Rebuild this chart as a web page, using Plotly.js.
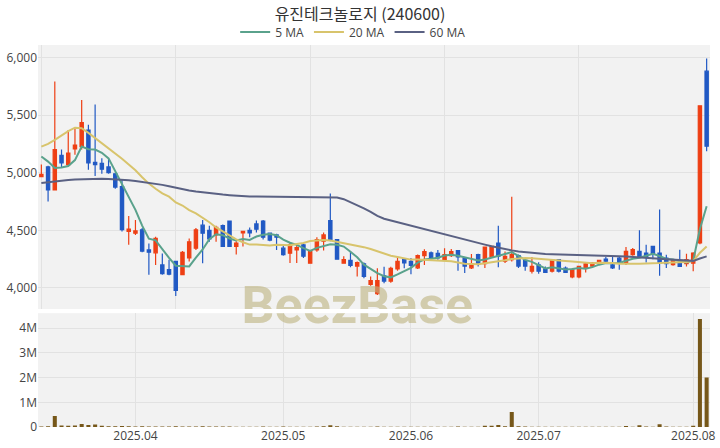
<!DOCTYPE html>
<html>
<head>
<meta charset="utf-8">
<script src="https://cdn.plot.ly/plotly-3.0.1.min.js"></script>
<style>html,body{margin:0;padding:0;background:#fff;}#chart{width:720px;height:448px;}</style>
</head>
<body>
<div id="chart"></div>
<script>
const dates = [
"2025-03-12","2025-03-13","2025-03-14","2025-03-17","2025-03-18","2025-03-19","2025-03-20","2025-03-21","2025-03-24","2025-03-25","2025-03-26","2025-03-27","2025-03-28","2025-03-31",
"2025-04-01","2025-04-02","2025-04-03","2025-04-04","2025-04-07","2025-04-08","2025-04-09","2025-04-10","2025-04-11","2025-04-14","2025-04-15","2025-04-16","2025-04-17","2025-04-18","2025-04-21","2025-04-22","2025-04-23","2025-04-24","2025-04-25","2025-04-28","2025-04-29","2025-04-30",
"2025-05-02","2025-05-07","2025-05-08","2025-05-09","2025-05-12","2025-05-13","2025-05-14","2025-05-15","2025-05-16","2025-05-19","2025-05-20","2025-05-21","2025-05-22","2025-05-23","2025-05-26","2025-05-27","2025-05-28","2025-05-29","2025-05-30",
"2025-06-02","2025-06-04","2025-06-05","2025-06-09","2025-06-10","2025-06-11","2025-06-12","2025-06-13","2025-06-16","2025-06-17","2025-06-18","2025-06-19","2025-06-20","2025-06-23","2025-06-24","2025-06-25","2025-06-26","2025-06-27","2025-06-30",
"2025-07-01","2025-07-02","2025-07-03","2025-07-04","2025-07-07","2025-07-08","2025-07-09","2025-07-10","2025-07-11","2025-07-14","2025-07-15","2025-07-16","2025-07-17","2025-07-18","2025-07-21","2025-07-22","2025-07-23","2025-07-24","2025-07-25","2025-07-28","2025-07-29","2025-07-30","2025-07-31",
"2025-08-01","2025-08-04","2025-08-05"];

const openP = [4965,5050,4850,5150,5070,5205,5225,5370,5090,5080,5050,4990,4880,4490,4475,4505,4330,4305,4200,4160,
4230,4115,4260,4345,4545,4500,4460,4540,4580,4360,4478,4500,4555,4580,4475,4460,4345,4302,4330,4375,
4215,4330,4405,4585,4420,4215,4240,4190,4210,4030,3950,4105,4060,4165,4250,4230,4175,4280,4305,4300,
4245,4280,4325,4260,4175,4290,4210,4270,4390,4232,4245,4280,4240,4145,4200,4165,4145,4245,4172,4095,
4095,4175,4190,4210,4250,4200,4258,4216,4290,4317,4303,4360,4303,4260,4202,4216,4210,4216,4390,5880];
const highP = [5070,5060,5790,5200,5370,5385,5630,5415,5590,5125,5120,5000,4940,4625,4590,4520,4385,4445,4300,4245,
4235,4320,4430,4520,4590,4540,4540,4550,4585,4405,4495,4525,4585,4590,4480,4470,4375,4390,4375,4390,
4330,4440,4480,4820,4425,4275,4315,4230,4220,4100,4170,4185,4185,4275,4260,4260,4290,4335,4317,4330,
4345,4337,4330,4268,4295,4297,4360,4366,4540,4317,4790,4290,4260,4268,4222,4187,4250,4250,4187,4172,
4193,4222,4222,4245,4268,4268,4274,4355,4346,4500,4375,4366,4680,4288,4250,4332,4297,4310,5580,5990];
const lowP = [4960,4750,4845,5050,5060,5155,5200,5025,4970,4990,4990,4860,4490,4375,4460,4310,4115,4200,4115,4110,
3930,4110,4230,4330,4215,4400,4400,4355,4355,4290,4360,4440,4480,4420,4405,4330,4280,4216,4216,4260,
4210,4315,4325,4405,4245,4210,4180,4100,4085,4020,3940,4040,4045,4150,4170,4120,4165,4200,4250,4245,
4240,4268,4150,4130,4165,4187,4173,4260,4180,4216,4230,4173,4150,4125,4124,4130,4135,4135,4130,4085,
4085,4135,4181,4200,4216,4164,4158,4200,4280,4260,4220,4250,4105,4173,4193,4181,4187,4144,4380,5185];
const closeP = [4985,4850,5200,5085,5170,5240,5435,5085,5070,5030,5000,4875,4505,4510,4495,4320,4310,4430,4125,4120,
3980,4310,4400,4505,4475,4425,4525,4360,4360,4390,4490,4478,4510,4440,4415,4440,4290,4375,4350,4275,
4320,4420,4460,4420,4250,4245,4195,4220,4100,4065,4065,4060,4170,4230,4218,4195,4280,4315,4260,4260,
4290,4315,4270,4190,4210,4210,4355,4360,4275,4275,4290,4190,4190,4187,4145,4135,4245,4145,4135,4158,
4187,4210,4216,4240,4232,4175,4216,4317,4332,4268,4270,4297,4216,4210,4245,4187,4245,4303,5580,5230];

const ma5 = [5140,5096,5040,5045,5058,5109,5226,5203,5200,5172,5124,5012,4896,4784,4677,4541,4428,4413,4336,4261,
4193,4193,4187,4263,4334,4423,4466,4458,4429,4412,4425,4416,4446,4462,4467,4457,4419,4392,4374,4346,
4322,4348,4365,4379,4374,4359,4314,4266,4202,4165,4129,4102,4092,4118,4149,4175,4219,4248,4254,4262,
4281,4288,4279,4265,4255,4239,4247,4265,4282,4295,4311,4278,4244,4226,4200,4169,4180,4171,4161,4164,
4174,4167,4181,4202,4217,4215,4216,4236,4254,4262,4281,4297,4277,4252,4248,4231,4221,4238,4512,4709];
const ma20 = [5226,5250,5285,5325,5360,5390,5385,5345,5300,5255,5215,5170,5120,5070,5020,4960,4905,4860,4820,4792,
4742,4715,4675,4646,4611,4570,4525,4489,4453,4421,4396,4376,4376,4372,4368,4374,4373,4371,4382,4390,
4407,4412,4415,4411,4400,4391,4374,4367,4354,4338,4317,4296,4279,4268,4258,4246,4246,4243,4238,4237,
4236,4231,4221,4210,4208,4206,4214,4221,4230,4240,4251,4258,4259,4257,4253,4250,4248,4240,4234,4229,
4223,4218,4215,4218,4219,4217,4210,4208,4211,4211,4210,4215,4216,4217,4222,4225,4225,4233,4305,4359];
const ma60 = [4910,4918,4926,4932,4937,4941,4944,4946,4947,4947,4946,4944,4940,4934,4928,4921,4914,4905,4894,4882,
4868,4855,4845,4836,4828,4821,4815,4810,4805,4800,4797,4794,4793,4792,4791,4790,4790,4790,4790,4789,
4789,4789,4788,4788,4785,4770,4745,4718,4690,4660,4625,4600,4585,4568,4552,4535,4520,4505,4490,4476,
4462,4448,4433,4418,4404,4390,4376,4362,4348,4337,4326,4317,4310,4303,4297,4294,4292,4291,4290,4289,
4288,4286,4284,4282,4280,4278,4276,4274,4271,4267,4263,4258,4253,4249,4245,4241,4237,4235,4255,4274];

const volume = [20000,30000,450000,60000,50000,60000,120000,80000,100000,50000,30000,30000,40000,30000,20000,30000,20000,20000,20000,20000,
30000,20000,20000,20000,30000,20000,20000,20000,20000,10000,10000,10000,10000,20000,10000,10000,20000,10000,10000,10000,
10000,20000,30000,70000,30000,10000,10000,10000,10000,10000,20000,10000,10000,10000,10000,10000,10000,10000,10000,10000,
10000,10000,20000,10000,10000,10000,50000,50000,80000,30000,610000,30000,20000,10000,10000,10000,10000,10000,10000,10000,
10000,10000,10000,10000,10000,10000,10000,40000,10000,70000,20000,10000,110000,20000,10000,10000,10000,50000,4370000,2000000];

const monthTickIdx = [14,36,55,74,97];
const monthTickText = ["2025.04","2025.05","2025.06","2025.07","2025.08"];
const priceGridIdx = [0,20,40,60,80];
const priceTicks = [4000,4500,5000,5500,6000];
const volTicks = [0,1000000,2000000,3000000,4000000];
const volTickText = ["0","1M","2M","3M","4M"];
const titleText = "유진테크놀로지 (240600)";
const watermark = "BeezBase";

const RED = "#ee3f14", BLUE = "#2159c4";
const wmColor = "rgba(190,180,130,0.62)";
const wmIdx = 47;

const traces = [
  {type:"candlestick", x:dates, open:openP, high:highP, low:lowP, close:closeP,
   xaxis:"x", yaxis:"y", showlegend:false, hoverinfo:"skip",
   increasing:{line:{color:RED,width:1.2}, fillcolor:RED},
   decreasing:{line:{color:BLUE,width:1.2}, fillcolor:BLUE}},
  {type:"scatter", mode:"lines", x:dates, y:ma5, name:"5 MA", xaxis:"x", yaxis:"y",
   line:{color:"#5aa28c", width:2}},
  {type:"scatter", mode:"lines", x:dates, y:ma20, name:"20 MA", xaxis:"x", yaxis:"y",
   line:{color:"#d8c46c", width:2}},
  {type:"scatter", mode:"lines", x:dates, y:ma60, name:"60 MA", xaxis:"x", yaxis:"y",
   line:{color:"#5a6183", width:2}},
  {type:"bar", x:dates, y:volume, xaxis:"x2", yaxis:"y2", showlegend:false,
   marker:{color:"#765719"}, hoverinfo:"skip"},
  {type:"scatter", mode:"text", x:[dates[wmIdx]], y:[3812], text:[watermark], xaxis:"x", yaxis:"y",
   showlegend:false, cliponaxis:true, hoverinfo:"skip",
   textfont:{family:"Roboto", size:52, color:wmColor, weight:"bold"}, textposition:"middle center"},
  {type:"scatter", mode:"text", x:[dates[wmIdx]], y:[4740000], text:[watermark], xaxis:"x2", yaxis:"y2",
   showlegend:false, cliponaxis:true, hoverinfo:"skip",
   textfont:{family:"Roboto", size:52, color:wmColor, weight:"bold"}, textposition:"middle center"}
];

const gridC = "#e2e2e2";
const layout = {
  width:720, height:448,
  margin:{l:38, r:10, t:45, b:21},
  paper_bgcolor:"#ffffff", plot_bgcolor:"#f2f2f2",
  font:{family:"Open Sans, sans-serif", size:12, color:"#444"},
  title:{text:titleText, x:0.5, xanchor:"center", y:0.968, yanchor:"middle",
         font:{family:"Noto Sans CJK KR", size:16, color:"#333"}},
  showlegend:true,
  legend:{orientation:"h", x:0.469, xanchor:"center", y:1.034, yanchor:"middle",
          font:{size:12, color:"#444"}, bgcolor:"rgba(0,0,0,0)", itemwidth:30},
  bargap:0.4,
  xaxis:{type:"category", domain:[0,1], anchor:"y", range:[-0.5,99.5],
         tickvals:priceGridIdx.map(i=>dates[i]), showticklabels:false,
         showgrid:true, gridcolor:gridC, ticks:"", zeroline:false, showline:false,
         rangeslider:{visible:false}, fixedrange:true},
  yaxis:{domain:[0.309,1], anchor:"x", range:[3818,6107], tickvals:priceTicks,
         tickformat:",d", showgrid:true, gridcolor:gridC, zeroline:false, ticks:"",
         tickfont:{size:12, color:"#444"}},
  xaxis2:{type:"category", domain:[0,1], anchor:"y2", range:[-0.5,99.5],
          tickvals:monthTickIdx.map(i=>dates[i]), ticktext:monthTickText,
          showgrid:true, gridcolor:gridC, ticks:"", zeroline:false, showline:false,
          tickfont:{size:12, color:"#444"}},
  yaxis2:{domain:[0,0.298], anchor:"x2", range:[0,4610000], tickvals:volTicks, ticktext:volTickText,
          showgrid:true, gridcolor:gridC, zeroline:false, ticks:"",
          tickfont:{size:12, color:"#444"}}
};

Plotly.newPlot("chart", traces, layout, {displayModeBar:false, staticPlot:true});
</script>
</body>
</html>
